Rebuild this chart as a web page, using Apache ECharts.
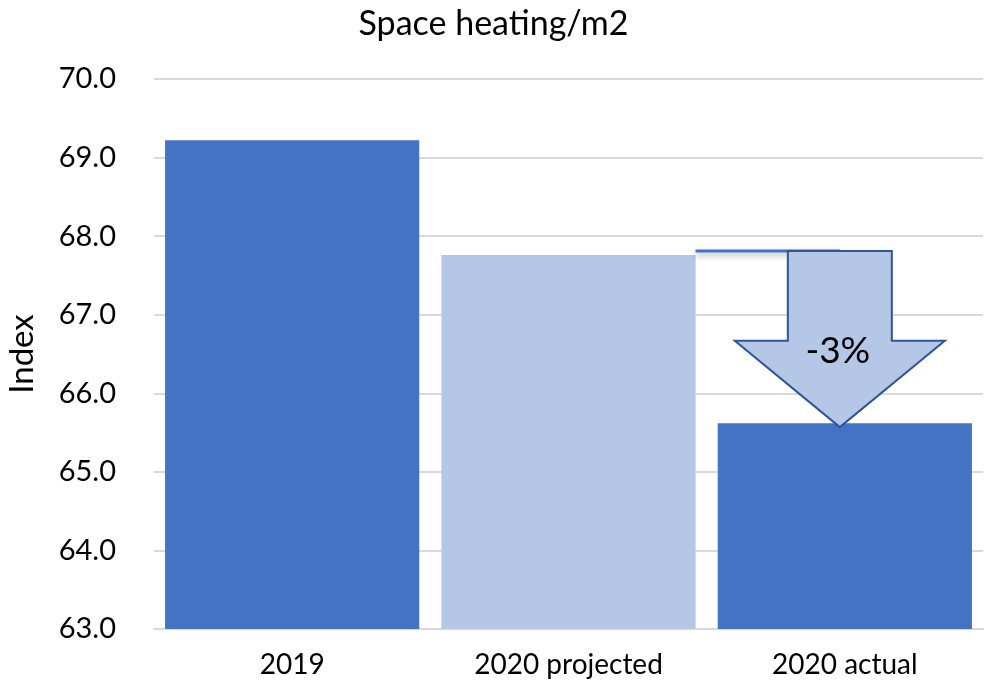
<!DOCTYPE html>
<html>
<head>
<meta charset="utf-8">
<script src="https://cdn.jsdelivr.net/npm/echarts@6/dist/echarts.min.js"></script>
<style>
  html, body { margin: 0; padding: 0; background: #fff; }
  #chart { width: 987px; height: 691px; }
</style>
</head>
<body>
<div id="chart"></div>
<script>
  // data
  const categories = ["2019", "2020 projected", "2020 actual"];
  const values = [69.22, 67.76, 65.62];
  const barColors = ["#4472C4", "#B4C7E7", "#4472C4"];
  const yTicks = [63, 64, 65, 66, 67, 68, 69, 70];
  const changeLabel = "-3%";

  const font = "Lato, 'Open Sans', sans-serif";
  const chart = echarts.init(document.getElementById("chart"));

  chart.setOption({
    animation: false,
    title: {
      text: "Space heating/m2",
      left: "center",
      top: 2,
      textStyle: { fontFamily: font, fontSize: 34, fontWeight: "normal", color: "#000" }
    },
    grid: { left: 154, right: 4, top: 79, bottom: 62, outerBoundsMode: "none", containLabel: false },
    xAxis: {
      type: "category",
      data: categories,
      axisTick: { show: false },
      axisLine: { lineStyle: { color: "#D9D9D9", width: 2 } },
      axisLabel: { fontFamily: font, fontSize: 28, color: "#000", margin: 22 }
    },
    yAxis: {
      type: "value",
      min: yTicks[0],
      max: yTicks[yTicks.length - 1],
      interval: 1,
      name: "Index",
      nameLocation: "middle",
      nameGap: 115,
      nameTextStyle: { fontFamily: font, fontSize: 33, color: "#000" },
      axisLabel: {
        fontFamily: font, fontSize: 29, color: "#000", margin: 38,
        formatter: v => v.toFixed(1)
      },
      splitLine: { lineStyle: { color: "#D9D9D9", width: 2 } }
    },
    series: [{
      type: "bar",
      barCategoryGap: "8%",
      data: values.map((v, i) => ({ value: v, itemStyle: { color: barColors[i] } }))
    }]
  });

  // arrow from projected to actual
  const fromPt = chart.convertToPixel({ seriesIndex: 0 }, [1, values[1]]);
  const toPt = chart.convertToPixel({ seriesIndex: 0 }, [2, values[2]]);
  const cx = toPt[0] - 5;
  const yTop = fromPt[1] - 4;
  const yTip = toPt[1] + 4;
  const yHead = yTop + (yTip - yTop) * 0.51;
  const shaft = 52, head = 105;

  chart.setOption({
    graphic: [
      {
        type: "line",
        shape: { x1: fromPt[0] + 127, y1: yTop, x2: cx, y2: yTop },
        style: {
          stroke: "#4472C4", lineWidth: 3,
          shadowBlur: 6, shadowColor: "rgba(0,0,0,0.35)", shadowOffsetY: 3
        },
        z: 10
      },
      {
        type: "polygon",
        shape: {
          points: [
            [cx - shaft, yTop], [cx + shaft, yTop], [cx + shaft, yHead],
            [cx + head, yHead], [cx, yTip], [cx - head, yHead], [cx - shaft, yHead]
          ]
        },
        style: { fill: "#B4C7E7", stroke: "#2F5597", lineWidth: 2 },
        z: 11
      },
      {
        type: "text",
        x: cx - 2,
        y: yHead + 10,
        style: {
          text: changeLabel, fontFamily: font, fontSize: 37, fill: "#000",
          textAlign: "center", textVerticalAlign: "middle"
        },
        z: 12
      }
    ]
  });
</script>
</body>
</html>
